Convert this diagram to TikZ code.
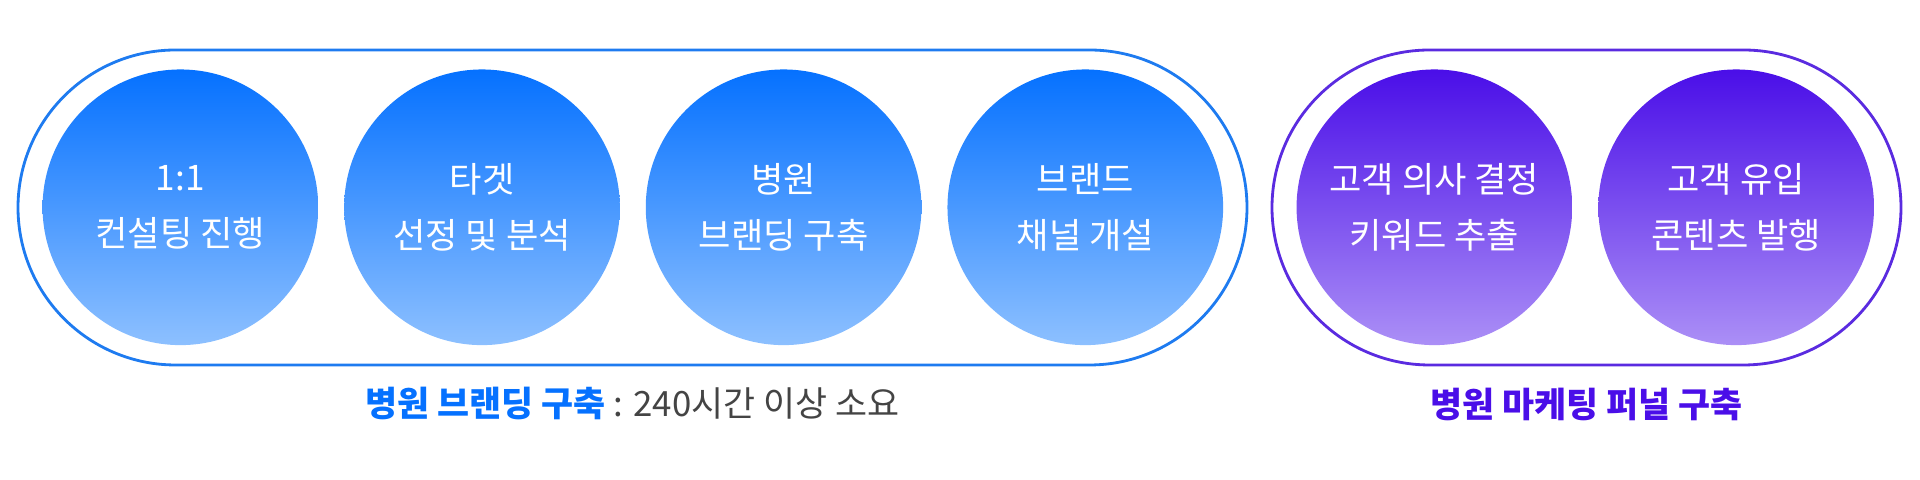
\documentclass[tikz,border=0pt]{standalone}
\usepackage{fontspec}
\setmainfont{Noto Sans CJK KR}
\usetikzlibrary{positioning}
\definecolor{c1}{HTML}{0571FF}
\definecolor{c1b}{HTML}{8DC0FF}
\definecolor{c2}{HTML}{4A0EE8}
\definecolor{c2b}{HTML}{AB8FF6}
\definecolor{c3}{HTML}{1E7BF0}
\definecolor{c4}{HTML}{5A2BE0}
\definecolor{c5}{HTML}{444444}
\tikzset{
  bubble_blue/.style={circle, minimum size=2.755cm, inner sep=0pt, top color=c1, bottom color=c1b, text=white, align=center, font=\fontsize{10pt}{15.8pt}\selectfont},
  bubble_purple/.style={bubble_blue, top color=c2, bottom color=c2b},
  pill_blue/.style={draw=c3, line width=0.8pt, rounded corners=1.575cm},
  pill_purple/.style={pill_blue, draw=c4},
  caption/.style={font=\fontsize{9.9pt}{12pt}\selectfont\bfseries, inner sep=0pt},
}

\begin{document}
\begin{tikzpicture}[x=0.01cm, y=-0.01cm]
\useasboundingbox (0,0) rectangle (1920,480);

% outlines
\draw[pill_blue] (18,50) rectangle (1247,365);
\draw[pill_purple] (1272,50) rectangle (1901,365);

\node[bubble_blue] (b1) at (180.4,207.3) {1:1\\컨설팅 진행};

\node[bubble_blue] (b2) at (482,207.3) {타겟\\선정 및 분석};

\node[bubble_blue] (b3) at (783.6,207.3) {병원\\브랜딩 구축};

\node[bubble_blue] (b4) at (1085.3,207.3) {브랜드\\채널 개설};

\node[bubble_purple] (p1) at (1434.4,207.3) {고객 의사 결정\\키워드 추출};

\node[bubble_purple] (p2) at (1736.2,207.3) {고객 유입\\콘텐츠 발행};

% captions
\node[caption] (t1) at (632.5,404) {\textcolor{c1}{병원 브랜딩 구축}\textcolor{c5}{\mdseries{} : 240시간 이상 소요}};
\node[caption, text=c2] (t2) at (1586.5,404) {병원 마케팅 퍼널 구축};

\end{tikzpicture}
\end{document}
